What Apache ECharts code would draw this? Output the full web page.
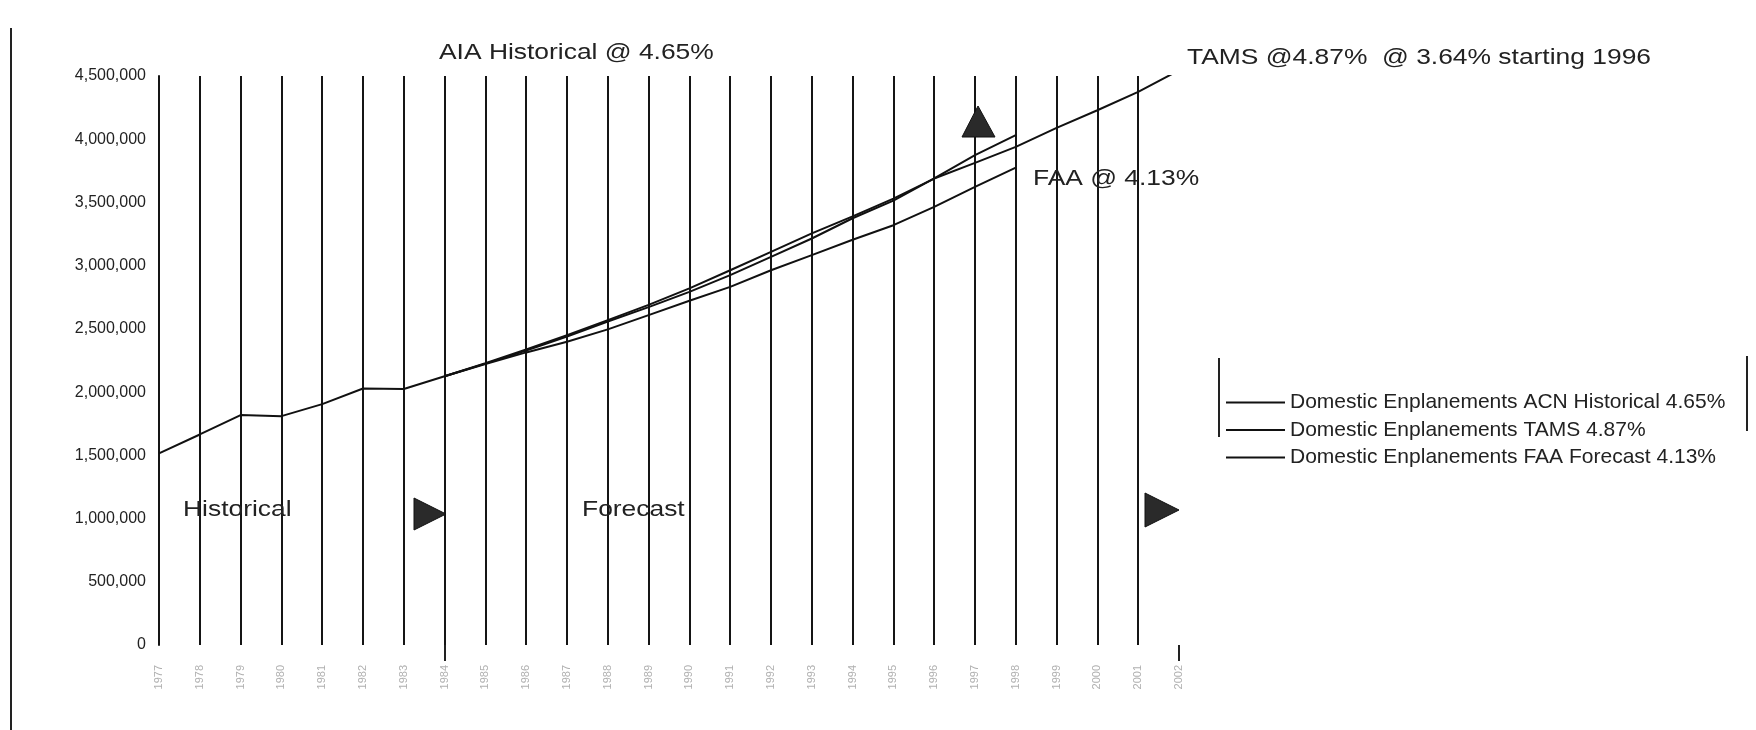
<!DOCTYPE html>
<html>
<head>
<meta charset="utf-8">
<script src="https://cdn.jsdelivr.net/npm/echarts@6/dist/echarts.min.js"></script>
<style>
html,body{margin:0;padding:0;background:#fff;}
#chart{width:1756px;height:730px;}
</style>
</head>
<body>
<div id="chart"></div>
<script>
// ---- data ----
var years = ['1977','1978','1979','1980','1981','1982','1983','1984','1985','1986','1987','1988','1989',
             '1990','1991','1992','1993','1994','1995','1996','1997','1998','1999','2000','2001','2002'];
var acnHistorical = [1515000,1665000,1818000,1810000,1905000,2029000,2024000,2126000,2225000,2328000,
                     2440000,2558000,2672000,2793000,2925000,3070000,3215000,3375000,3515000,3690000,3874000,4032000];
var tams = [null,null,null,null,null,null,null,2126000,2228000,2337000,2451000,2569000,2690000,2820000,
            2964000,3109000,3255000,3390000,3530000,3689000,3813000,3939000,4090000,4229000,4374000,4545000];
var faa = [null,null,null,null,null,null,null,2126000,2222000,2314000,2398000,2496000,2609000,2722000,
           2832000,2964000,3083000,3205000,3320000,3465000,3623000,3776000];
var seriesNames = ['Domestic Enplanements ACN Historical 4.65%',
                   'Domestic Enplanements TAMS 4.87%',
                   'Domestic Enplanements FAA Forecast 4.13%'];
var yTicks = {min:0, max:4500000, step:500000};

var FONT = 'Liberation Sans, Arial, sans-serif';
function note(text, x, y, sx){
  return {type:'text', x:x, y:y, scaleX:sx, z:10,
    style:{text:text, fontSize:22, fontFamily:FONT, fill:'#222', align:'left', verticalAlign:'middle'}};
}
function vline(x, y1, y2, w){
  return {type:'line', z:10, shape:{x1:x,y1:y1,x2:x,y2:y2}, style:{stroke:'#222', lineWidth:w||2}};
}
function tri(pts){
  return {type:'polygon', z:10, shape:{points:pts}, style:{fill:'#2a2a2a', stroke:'#111', lineWidth:1}};
}

var chart = echarts.init(document.getElementById('chart'), null, {renderer:'canvas'});
chart.setOption({
  backgroundColor:'#ffffff',
  animation:false,
  grid:{left:159, right:577, top:76, bottom:85, containLabel:false},
  legend:{
    orient:'vertical', left:1226, top:392, padding:0, itemWidth:59, itemHeight:2, itemGap:6.5, icon:'rect',
    textStyle:{fontSize:21, fontFamily:FONT, color:'#222', lineHeight:21},
    data:seriesNames
  },
  xAxis:{
    type:'category', data:years, boundaryGap:false,
    axisLine:{show:false},
    axisTick:{show:true, length:16, interval:function(i){return i===7 || i===25;},
              lineStyle:{color:'#222', width:2}},
    splitLine:{show:true, interval:function(i){return i<25;}, lineStyle:{color:'#151515', width:2}},
    axisLabel:{show:true, interval:0, rotate:90, margin:20, fontSize:11, fontFamily:FONT, color:'#b0b0b0'}
  },
  yAxis:{
    type:'value', min:yTicks.min, max:yTicks.max, interval:yTicks.step,
    axisLine:{show:true, lineStyle:{color:'#151515', width:2}},
    axisTick:{show:false},
    splitLine:{show:false},
    axisLabel:{margin:13, fontSize:16, fontFamily:FONT, color:'#222',
      formatter:function(v){return v.toString().replace(/\B(?=(\d{3})+(?!\d))/g, ',');}}
  },
  series:[
    {name:seriesNames[0], type:'line', data:acnHistorical, symbol:'none', z:5,
     lineStyle:{color:'#111', width:2}, itemStyle:{color:'#111'}},
    {name:seriesNames[1], type:'line', data:tams, symbol:'none', z:5,
     lineStyle:{color:'#111', width:2}, itemStyle:{color:'#111'}},
    {name:seriesNames[2], type:'line', data:faa, symbol:'none', z:5,
     lineStyle:{color:'#111', width:2}, itemStyle:{color:'#111'}}
  ],
  graphic:[
    vline(11, 28, 730, 2),
    vline(1219, 358, 437, 2),
    vline(1747, 356, 431, 2),
    note('AIA Historical @ 4.65%', 439, 53, 1.2),
    note('TAMS @4.87%  @ 3.64% starting 1996', 1187, 58, 1.2),
    note('FAA @ 4.13%', 1033, 179, 1.2),
    note('Historical', 183, 510, 1.2),
    note('Forecast', 582, 510, 1.2),
    tri([[414,498],[414,530],[446,514]]),
    tri([[1145,493],[1145,527],[1179,510]]),
    tri([[962,137],[995,137],[978,106]])
  ]
});
</script>
</body>
</html>
